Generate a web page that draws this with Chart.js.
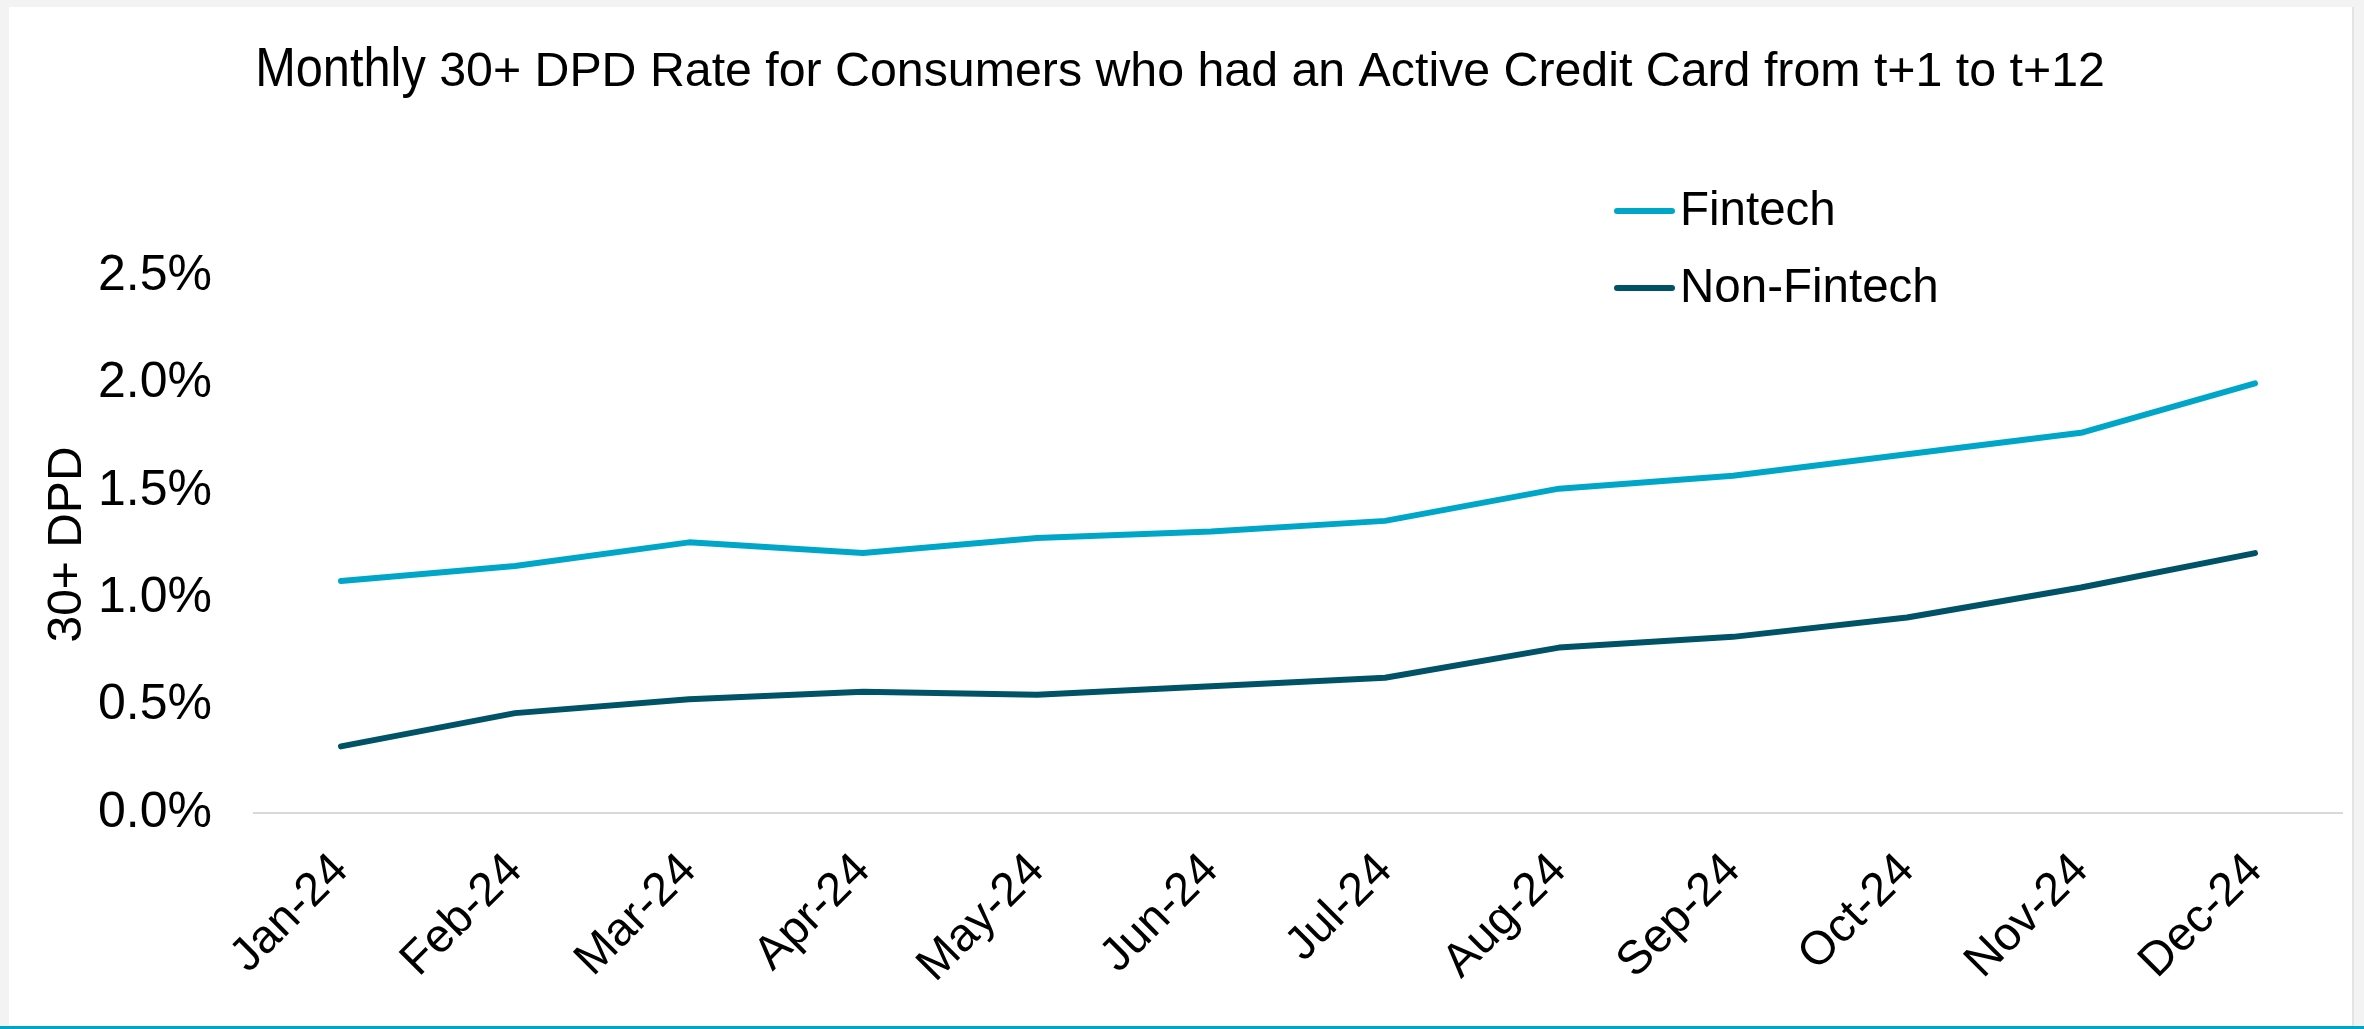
<!DOCTYPE html>
<html>
<head>
<meta charset="utf-8">
<title>Monthly 30+ DPD Rate</title>
<script src="https://cdn.jsdelivr.net/npm/chart.js@4.4.1/dist/chart.umd.min.js"></script>
<style>
  html, body { margin: 0; padding: 0; }
  body {
    width: 2364px;
    height: 1029px;
    background: #f3f3f3;
    position: relative;
    overflow: hidden;
    font-family: "Liberation Sans", Arial, sans-serif;
  }
  .card {
    position: absolute;
    left: 9px;
    top: 7px;
    width: 2343px;
    height: 1022px;
    background: #fff;
    border-right: 2px solid #e4e4e4;
  }
  .bottom-rule {
    position: absolute;
    left: 0;
    bottom: 0;
    width: 2364px;
    height: 3px;
    background: #00a6c8;
  }
  .chart-wrap {
    position: absolute;
    left: 0;
    top: 0;
    width: 2364px;
    height: 1029px;
  }
</style>
</head>
<body>
<div class="card"></div>
<div class="bottom-rule"></div>
<div class="chart-wrap"><canvas id="dpdChart"></canvas></div>

<script>
// Chart data
const months = ['Jan-24', 'Feb-24', 'Mar-24', 'Apr-24', 'May-24', 'Jun-24',
                'Jul-24', 'Aug-24', 'Sep-24', 'Oct-24', 'Nov-24', 'Dec-24'];
const fintech    = [1.08, 1.15, 1.26, 1.21, 1.28, 1.31, 1.36, 1.51, 1.57, 1.67, 1.77, 2.00];
const nonFintech = [0.31, 0.465, 0.53, 0.565, 0.55, 0.59, 0.63, 0.77, 0.82, 0.91, 1.05, 1.21];
const yTickValues = [0, 0.5, 1.0, 1.5, 2.0, 2.5];

const FONT = '"Liberation Sans", Arial, sans-serif';

// Title with a taller first word, drawn by hand
const splitTitle = {
  id: 'splitTitle',
  afterDraw(chart, args, opts) {
    const ctx = chart.ctx;
    ctx.save();
    ctx.fillStyle = opts.color;
    ctx.textBaseline = 'alphabetic';
    ctx.textAlign = 'left';

    ctx.font = `${opts.leadSize}px ${FONT}`;
    const leadW = ctx.measureText(opts.lead).width * opts.leadStretch;
    ctx.font = `${opts.size}px ${FONT}`;
    const rest = ' ' + opts.text;
    const restW = ctx.measureText(rest).width;

    let x = opts.centerX - (leadW + restW) / 2;
    ctx.save();
    ctx.translate(x, opts.baseline);
    ctx.scale(opts.leadStretch, 1);
    ctx.font = `${opts.leadSize}px ${FONT}`;
    ctx.fillText(opts.lead, 0, 0);
    ctx.restore();

    ctx.font = `${opts.size}px ${FONT}`;
    ctx.fillText(rest, x + leadW, opts.baseline);
    ctx.restore();
  }
};

// Stacked legend, one row per dataset
const stackedLegend = {
  id: 'stackedLegend',
  afterDraw(chart, args, opts) {
    const ctx = chart.ctx;
    ctx.save();
    ctx.font = `${opts.size}px ${FONT}`;
    ctx.textBaseline = 'middle';
    ctx.textAlign = 'left';
    chart.data.datasets.forEach((ds, i) => {
      const y = opts.y + i * opts.rowGap;
      ctx.strokeStyle = ds.borderColor;
      ctx.lineWidth = ds.borderWidth;
      ctx.lineCap = 'round';
      ctx.beginPath();
      ctx.moveTo(opts.x, y);
      ctx.lineTo(opts.x + opts.lineLength, y);
      ctx.stroke();
      ctx.fillStyle = '#000';
      ctx.fillText(ds.label, opts.x + opts.lineLength + opts.gap, y + 1);
    });
    ctx.restore();
  }
};

const ctx = document.getElementById('dpdChart');

const dpdChart = new Chart(ctx, {
  type: 'line',
  data: {
    labels: months,
    datasets: [
      {
        label: 'Fintech',
        data: fintech,
        borderColor: '#00a6c8',
        backgroundColor: '#00a6c8',
        borderWidth: 6,
        pointRadius: 0,
        tension: 0,
        borderCapStyle: 'round',
        borderJoinStyle: 'round'
      },
      {
        label: 'Non-Fintech',
        data: nonFintech,
        borderColor: '#005266',
        backgroundColor: '#005266',
        borderWidth: 6,
        pointRadius: 0,
        tension: 0,
        borderCapStyle: 'round',
        borderJoinStyle: 'round'
      }
    ]
  },
  options: {
    responsive: true,
    maintainAspectRatio: false,
    animation: false,
    devicePixelRatio: 1,
    layout: {
      padding: { top: 276, left: 39, right: 22, bottom: 0 }
    },
    plugins: {
      legend: { display: false },
      title: { display: false },
      tooltip: { enabled: false },
      splitTitle: {
        lead: 'Monthly',
        text: '30+ DPD Rate for Consumers who had an Active Credit Card from t+1 to t+12',
        leadSize: 56,
        leadStretch: 0.87,
        size: 48.3,
        color: '#000',
        centerX: 1180,
        baseline: 86
      },
      stackedLegend: {
        x: 1617,
        y: 211,
        rowGap: 77,
        lineLength: 55,
        gap: 8,
        size: 47.5
      }
    },
    scales: {
      x: {
        offset: true,
        afterFit: (scale) => { scale.height = 216; },
        grid: { display: false, drawTicks: false },
        border: { display: true, color: '#d9d9d9', width: 2 },
        ticks: {
          color: '#000',
          font: { family: FONT, size: 47 },
          minRotation: 45,
          maxRotation: 45,
          autoSkip: false,
          padding: 30
        }
      },
      y: {
        min: 0,
        max: 2.5,
        afterBuildTicks: (scale) => {
          scale.ticks = yTickValues.map(v => ({ value: v }));
        },
        afterFit: (scale) => { scale.width = 215; },
        grid: { display: false, drawTicks: false },
        border: { display: false },
        ticks: {
          color: '#000',
          font: { family: FONT, size: 50 },
          padding: 42,
          callback: (v) => v.toFixed(1) + '%'
        },
        title: {
          display: true,
          text: '30+ DPD',
          color: '#000',
          font: { family: FONT, size: 48 },
          padding: { top: 0, bottom: 8 }
        }
      }
    }
  },
  plugins: [splitTitle, stackedLegend]
});
</script>
</body>
</html>
